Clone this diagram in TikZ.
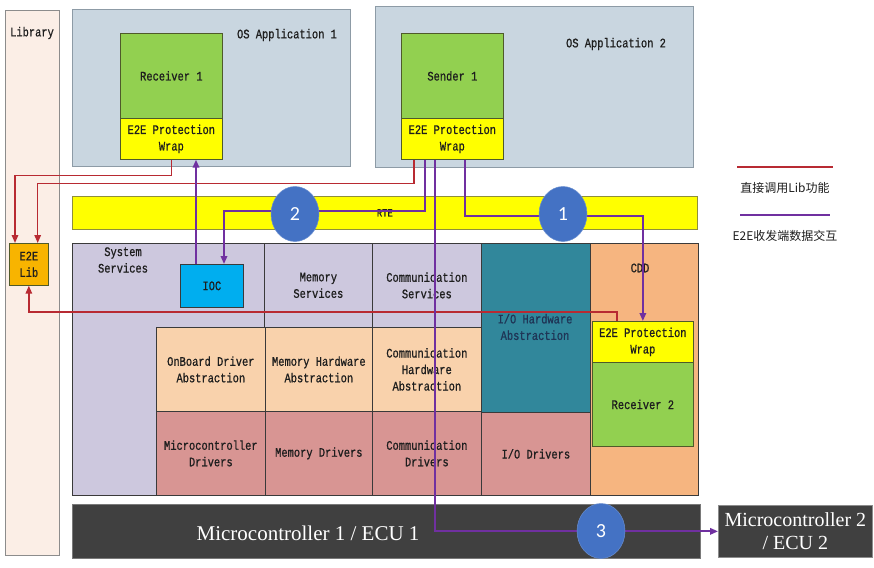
\documentclass[tikz,border=0pt]{standalone}
\usepackage{fontspec}
\setmainfont{Liberation Serif}
\newfontfamily\boxfont[FakeStretch=0.8,FakeBold=0.8]{Liberation Mono}
\newfontfamily\cjkfont{Noto Sans CJK SC}
\newfontfamily\numfont{Carlito}
\usetikzlibrary{arrows.meta,shapes.geometric}
\definecolor{libfill}{HTML}{FBEEE6}
\definecolor{libline}{HTML}{8C8C8C}
\definecolor{osapp}{HTML}{C9D6E0}
\definecolor{osline}{HTML}{8D9BA6}
\definecolor{grn}{HTML}{92D050}
\definecolor{grnline}{HTML}{4F5A2A}
\definecolor{yel}{HTML}{FFFF00}
\definecolor{rteline}{HTML}{8F8F3A}
\definecolor{lav}{HTML}{CDC8DE}
\definecolor{peach}{HTML}{F9D2AC}
\definecolor{rose}{HTML}{D89593}
\definecolor{teal}{HTML}{31879B}
\definecolor{cdd}{HTML}{F6B580}
\definecolor{ioc}{HTML}{00AEEF}
\definecolor{libbox}{HTML}{F8B400}
\definecolor{darkbar}{HTML}{404040}
\definecolor{circ}{HTML}{4472C4}
\definecolor{cellline}{HTML}{3A3A3A}
\definecolor{txt}{HTML}{1E1E1E}
\definecolor{navytxt}{HTML}{1F3556}
\definecolor{redc}{HTML}{B82A32}
\definecolor{purp}{HTML}{7030A0}
\begin{document}
\begin{tikzpicture}[x=1pt,y=-1pt,
  cell/.style={draw=cellline, line width=0.7pt, inner sep=0pt, anchor=north west,
    align=center, font=\boxfont\fontsize{13}{16.5}\selectfont, text=txt},
  lbl/.style={inner sep=0pt, align=center, font=\boxfont\fontsize{13}{16.5}\selectfont, text=txt},
  redline/.style={draw=redc, line width=1.5pt},
  purline/.style={draw=purp, line width=1.8pt},
  tip/.style={-{Triangle[length=8pt,width=6.5pt]}},
  numcirc/.style={ellipse, fill=circ, draw=circ!80!white, line width=0.5pt, minimum width=48pt,
    minimum height=55pt, inner sep=0pt, text=white, font=\numfont\fontsize{20}{24}\selectfont},
  legtxt/.style={inner sep=0pt, text=txt, font=\cjkfont\fontsize{12}{14}\selectfont}
  ]
\useasboundingbox (0,0) rectangle (874,567);
\fill[white] (0,0) rectangle (874,567);

% Library column
\node[cell, fill=libfill, draw=libline, minimum width=54pt, minimum height=545pt] (library) at (5,10) {};
\node[lbl] (librarylbl) at (32,33) {Library};
\node[cell, fill=libbox, draw=grnline, minimum width=39pt, minimum height=42pt] (lib) at (9,243) {E2E\\Lib};

% OS applications
\node[cell, fill=osapp, draw=osline, minimum width=278pt, minimum height=157pt] (os1) at (72,9) {};
\node[lbl] (os1lbl) at (287,35) {OS Application 1};
\node[cell, fill=osapp, draw=osline, minimum width=318pt, minimum height=161pt] (os2) at (375,6) {};
\node[lbl] (os2lbl) at (616,44) {OS Application 2};
\node[cell, fill=grn, draw=grnline, minimum width=102pt, minimum height=85pt] (recv1) at (120,33) {Receiver 1};
\node[cell, fill=yel, draw=grnline, minimum width=102pt, minimum height=41pt] (r1wrap) at (120,118) {E2E Protection\\Wrap};
\node[cell, fill=grn, draw=grnline, minimum width=102pt, minimum height=85pt] (send1) at (401,33) {Sender 1};
\node[cell, fill=yel, draw=grnline, minimum width=102pt, minimum height=41pt] (s1wrap) at (401,118) {E2E Protection\\Wrap};

% RTE
\node[cell, fill=yel, draw=rteline, minimum width=625pt, minimum height=33pt,
  font=\boxfont\fontsize{11}{13}\selectfont] (rte) at (72,196) {RTE};

% BSW
\node[cell, fill=lav, minimum width=192pt, minimum height=252pt] (syssvc) at (72,243) {};
\node[lbl] (syssvclbl) at (123,260) {System\\Services};
\node[cell, fill=ioc, draw=cellline, minimum width=63pt, minimum height=43pt] (ioc) at (180,264) {IOC};
\node[cell, fill=lav, minimum width=108pt, minimum height=84pt] (memsvc) at (264,243) {Memory\\Services};
\node[cell, fill=lav, minimum width=109pt, minimum height=84pt] (comsvc) at (372,243) {Communication\\Services};
\node[cell, fill=teal, minimum width=109pt, minimum height=169pt] (iohw) at (481,243) {};
\node[lbl, text=navytxt] (iohwlbl) at (535,327) {I/O Hardware\\Abstraction};
\node[cell, fill=cdd, minimum width=108pt, minimum height=252pt] (cddbox) at (590,243) {};
\node[lbl] (cddlbl) at (640,268) {CDD};
\node[cell, fill=yel, draw=grnline, minimum width=101pt, minimum height=41pt] (cddwrap) at (592,321) {E2E Protection\\Wrap};
\node[cell, fill=grn, draw=grnline, minimum width=101pt, minimum height=84pt] (recv2) at (592,362) {Receiver 2};

\node[cell, fill=peach, minimum width=109pt, minimum height=84pt] (onboard) at (156,327) {OnBoard Driver\\Abstraction};
\node[cell, fill=peach, minimum width=107pt, minimum height=84pt] (memhw) at (265,327) {Memory Hardware\\Abstraction};
\node[cell, fill=peach, minimum width=109pt, minimum height=84pt] (comhw) at (372,327) {Communication\\Hardware\\Abstraction};
\node[cell, fill=rose, minimum width=109pt, minimum height=84pt] (mcdrv) at (156,411) {Microcontroller\\Drivers};
\node[cell, fill=rose, minimum width=107pt, minimum height=84pt] (memdrv) at (265,411) {Memory Drivers};
\node[cell, fill=rose, minimum width=109pt, minimum height=84pt] (comdrv) at (372,411) {Communication\\Drivers};
\node[cell, fill=rose, minimum width=109pt, minimum height=83pt] (iodrv) at (481,412) {I/O Drivers};

% Microcontrollers
\node[cell, fill=darkbar, draw=darkbar!70!white, minimum width=628pt, minimum height=54pt] (mc1) at (72,504) {};
\node[inner sep=0pt, text=white, font=\fontsize{21}{24}\selectfont] (mc1lbl) at (308,533) {Microcontroller 1 / ECU 1};
\node[cell, fill=darkbar, draw=darkbar!60!white, minimum width=154pt, minimum height=52pt,
  text=white, font=\fontsize{20}{23}\selectfont] (mc2) at (718,505) {Microcontroller 2\\/ ECU 2};

% Red connectors (direct Lib calls)
\draw[redline, tip] (r1wrap.south) -- ++(0,16) -| ([xshift=6pt]lib.north west);
\draw[redline, tip] ([xshift=13pt]s1wrap.south west) -- ++(0,24) -| ([xshift=-11pt]lib.north east);
\draw[redline, tip] ([xshift=25pt]cddwrap.north west) -- ++(0,-9) -| (lib.south);

% Purple connectors (E2E data exchange)
\draw[purline, tip] ([xshift=24pt]s1wrap.south west) -- ++(0,51) -| ([xshift=44pt]ioc.north west);
\draw[purline, tip] ([xshift=16pt]ioc.north west) -- ([xshift=16pt]ioc.north west |- r1wrap.south);
\draw[purline, tip] ([xshift=64pt]s1wrap.south west) -- ++(0,56) -| (cddwrap.north);
\draw[purline, tip] ([xshift=34pt]s1wrap.south west) |- (mc2.west);

% Numbered circles
\node[numcirc] (c2) at (295,214) {2};
\node[numcirc] (c1) at (563,214) {1};
\node[numcirc] (c3) at (601,531) {3};

% Legend
\coordinate (lg1a) at (737,167);
\coordinate (lg1b) at (833,167);
\coordinate (lg2a) at (740,215);
\coordinate (lg2b) at (830,215);
\draw[redline] (lg1a) -- (lg1b);
\draw[purline] (lg2a) -- (lg2b);
\node[legtxt] (leg1) at (785,188) {直接调用Lib功能};
\node[legtxt] (leg2) at (785,236) {E2E收发端数据交互};
\end{tikzpicture}
\end{document}
